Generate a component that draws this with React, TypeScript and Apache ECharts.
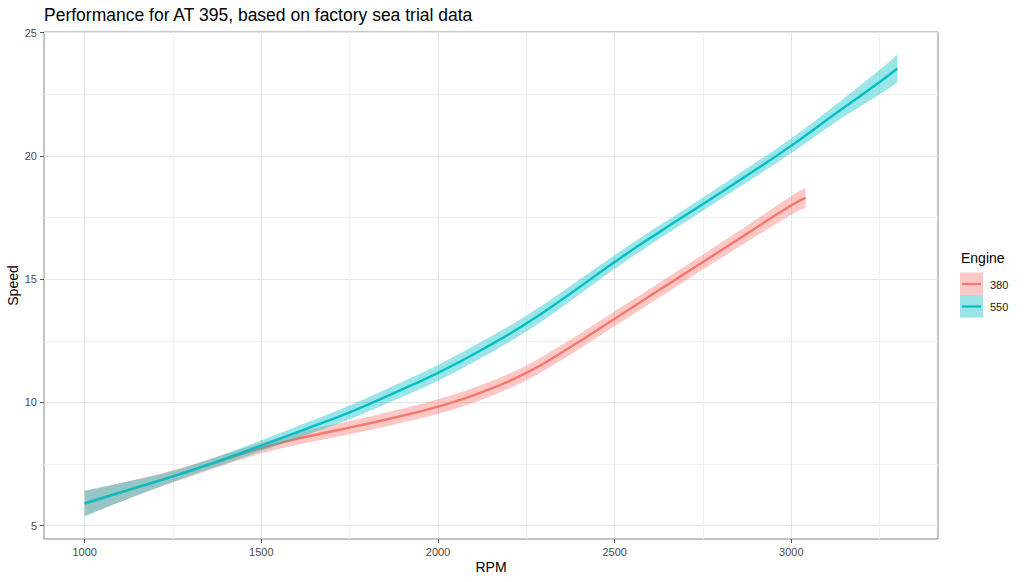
import React, { useEffect, useRef } from 'react';
import * as echarts from 'echarts';

const chartTitle = 'Performance for AT 395, based on factory sea trial data';
const xName = 'RPM';
const yName = 'Speed';
const legendTitle = 'Engine';
const engines = ['380', '550'];

const xTicks = [1000, 1500, 2000, 2500, 3000];
const xMinor = [1250, 1750, 2250, 2750, 3250];
const yTicks = [5, 10, 15, 20, 25];
const yMinor = [7.5, 12.5, 17.5, 22.5];

const rpm380 = [1000, 1125, 1250, 1375, 1500, 1625, 1750, 1875, 2000, 2125, 2250, 2375, 2500, 2625, 2750, 2875, 3000, 3040];
const speed380 = [5.9, 6.45, 7.0, 7.58, 8.15, 8.6, 8.98, 9.38, 9.83, 10.42, 11.2, 12.25, 13.4, 14.55, 15.7, 16.85, 18.0, 18.3];
const half380 = [0.5, 0.35, 0.25, 0.22, 0.22, 0.25, 0.27, 0.28, 0.3, 0.3, 0.3, 0.3, 0.3, 0.3, 0.3, 0.33, 0.38, 0.4];

const rpm550 = [1000, 1125, 1250, 1375, 1500, 1625, 1750, 1875, 2000, 2125, 2250, 2375, 2500, 2625, 2750, 2875, 3000, 3125, 3250, 3300];
const speed550 = [5.9, 6.45, 7.0, 7.6, 8.25, 8.92, 9.6, 10.38, 11.2, 12.15, 13.2, 14.42, 15.7, 16.9, 18.05, 19.22, 20.42, 21.72, 23.0, 23.55];
const half550 = [0.52, 0.35, 0.22, 0.2, 0.22, 0.25, 0.28, 0.3, 0.32, 0.33, 0.32, 0.3, 0.28, 0.27, 0.27, 0.28, 0.3, 0.35, 0.5, 0.57];

const lineColors = ['#F8766D', '#00BFC4'];
const fillColors = ['rgba(248,118,109,0.4)', 'rgba(0,191,196,0.4)'];
const FONT = "'Liberation Sans', Arial, Helvetica, sans-serif";

function addCurve(ctx: any, pts: number[][], start: boolean) {
  if (start) ctx.moveTo(pts[0][0], pts[0][1]);
  else ctx.lineTo(pts[0][0], pts[0][1]);
  for (let i = 0; i < pts.length - 1; i++) {
    const p0 = pts[Math.max(i - 1, 0)];
    const p1 = pts[i];
    const p2 = pts[i + 1];
    const p3 = pts[Math.min(i + 2, pts.length - 1)];
    ctx.bezierCurveTo(
      p1[0] + (p2[0] - p0[0]) / 6, p1[1] + (p2[1] - p0[1]) / 6,
      p2[0] - (p3[0] - p1[0]) / 6, p2[1] - (p3[1] - p1[1]) / 6,
      p2[0], p2[1]
    );
  }
}

const BandShape = (echarts.graphic as any).extendShape({
  shape: { upper: [], lower: [] },
  buildPath(ctx: any, shape: any) {
    if (!shape.upper || shape.upper.length < 2) return;
    addCurve(ctx, shape.upper, true);
    addCurve(ctx, shape.lower.slice().reverse(), false);
    ctx.closePath();
  },
});
(echarts.graphic as any).registerShape('smoothBand', BandShape);

function bandSeries(name: string, rpm: number[], speed: number[], half: number[], fill: string, z: number) {
  return {
    type: 'custom',
    name,
    coordinateSystem: 'cartesian2d',
    xAxisIndex: 0,
    yAxisIndex: 0,
    z,
    silent: true,
    data: rpm.map((x, i) => [x, speed[i] - half[i], speed[i] + half[i]]),
    encode: { x: 0, y: [1, 2] },
    renderItem: (params: any, api: any) => {
      if (params.dataIndex !== 0) return null;
      const upper = rpm.map((x, i) => api.coord([x, speed[i] + half[i]]));
      const lower = rpm.map((x, i) => api.coord([x, speed[i] - half[i]]));
      return { type: 'smoothBand', shape: { upper, lower }, style: { fill, stroke: null } };
    },
  };
}

function lineSeries(name: string, rpm: number[], speed: number[], color: string, z: number) {
  return {
    type: 'line',
    name,
    z,
    silent: true,
    smooth: true,
    symbol: 'none',
    showSymbol: false,
    data: rpm.map((x, i) => [x, speed[i]]),
    lineStyle: { color, width: 2.4 },
  };
}

export default function App() {
  const ref = useRef<HTMLDivElement>(null);
  useEffect(() => {
    if (!ref.current) return;
    const chart = echarts.init(ref.current, undefined, { renderer: 'svg' });
    const axisCommon = {
      type: 'value',
      axisLine: { show: false },
    };
    const plain = (v: number) => String(v);
    const option: any = {
      animation: false,
      textStyle: { fontFamily: FONT },
      title: {
        text: chartTitle,
        left: 44,
        top: 6,
        padding: 0,
        textStyle: { fontSize: 17.5, fontWeight: 'normal', color: '#000', fontFamily: FONT },
      },
      grid: {
        left: 44,
        right: 86,
        top: 32,
        bottom: 43,
        containLabel: false,
        outerBoundsMode: 'none',
        show: true,
        borderColor: '#8a8a8a',
        borderWidth: 1,
        backgroundColor: 'transparent',
      },
      xAxis: [
        {
          ...axisCommon,
          min: 885,
          max: 3415,
          name: xName,
          nameLocation: 'middle',
          nameGap: 21,
          nameMoveOverlap: false,
          nameTextStyle: { fontSize: 14, color: '#000', fontFamily: FONT },
          axisTick: { show: true, length: 4, customValues: xTicks, lineStyle: { color: '#555' } },
          axisLabel: { customValues: xTicks, formatter: plain, fontSize: 11, color: '#4D4D4D', margin: 7, fontFamily: FONT },
          splitLine: { show: true, lineStyle: { color: '#E6E6E6', width: 1 } },
        },
        {
          ...axisCommon,
          min: 885,
          max: 3415,
          axisTick: { show: false, customValues: xMinor },
          axisLabel: { show: false, customValues: xMinor },
          splitLine: { show: true, lineStyle: { color: '#F1F1F1', width: 1 } },
        },
      ],
      yAxis: [
        {
          ...axisCommon,
          min: 4.46,
          max: 25.03,
          name: yName,
          nameLocation: 'middle',
          nameGap: 24,
          nameMoveOverlap: false,
          nameTextStyle: { fontSize: 14, color: '#000', fontFamily: FONT },
          axisTick: { show: true, length: 4, customValues: yTicks, lineStyle: { color: '#555' } },
          axisLabel: { customValues: yTicks, formatter: plain, fontSize: 11, color: '#4D4D4D', margin: 7, fontFamily: FONT },
          splitLine: { show: true, lineStyle: { color: '#E6E6E6', width: 1 } },
        },
        {
          ...axisCommon,
          min: 4.46,
          max: 25.03,
          axisTick: { show: false, customValues: yMinor },
          axisLabel: { show: false, customValues: yMinor },
          splitLine: { show: true, lineStyle: { color: '#F1F1F1', width: 1 } },
        },
      ],
      series: [
        bandSeries('band380', rpm380, speed380, half380, fillColors[0], 3),
        lineSeries(engines[0], rpm380, speed380, lineColors[0], 4),
        bandSeries('band550', rpm550, speed550, half550, fillColors[1], 5),
        lineSeries(engines[1], rpm550, speed550, lineColors[1], 6),
      ],
      graphic: [
        {
          type: 'text',
          left: 961,
          top: 251,
          style: { text: legendTitle, fontSize: 14, fill: '#000', fontFamily: FONT },
        },
        ...engines.flatMap((e, i) => {
          const y0 = 272.5 + i * 22.5;
          return [
            { type: 'rect', shape: { x: 960, y: y0, width: 23, height: 22.5 }, style: { fill: fillColors[i] } },
            {
              type: 'line',
              shape: { x1: 962, y1: y0 + 11.5, x2: 981, y2: y0 + 11.5 },
              style: { stroke: lineColors[i], lineWidth: 2.2 },
            },
            {
              type: 'text',
              x: 990,
              y: y0 + 12.2,
              style: { text: e, fontSize: 11, fill: '#222', fontFamily: FONT, verticalAlign: 'middle', align: 'left' },
            },
          ];
        }),
      ],
    };
    chart.setOption(option);
    return () => chart.dispose();
  }, []);
  return (
    <div
      ref={ref}
      style={{ position: 'fixed', left: 0, top: 0, width: 1024, height: 582, background: '#fff' }}
    />
  );
}
